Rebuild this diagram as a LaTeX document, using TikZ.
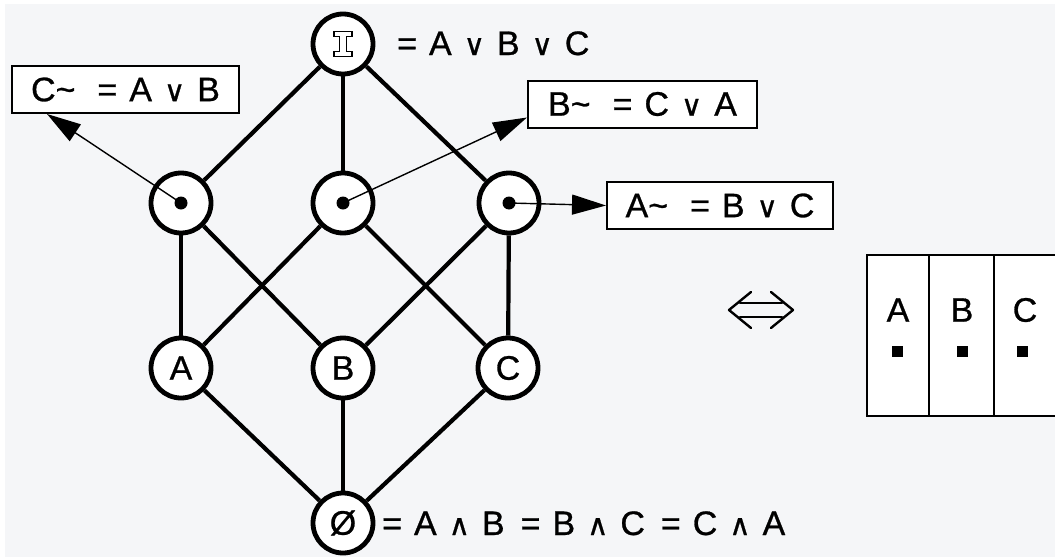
\documentclass[tikz,border=0pt]{standalone}
\usepackage{fontspec}
\setmainfont[FakeBold=0.8]{Liberation Sans}
\newfontfamily\symf[FakeBold=0.8]{DejaVu Sans}
\usetikzlibrary{arrows.meta,calc,backgrounds}
\definecolor{bgc}{RGB}{245,246,248}
\newcommand\gap{\hspace{12pt}}
\newcommand\myor{{\symf\fontsize{29}{29}\selectfont ∨}}
\newcommand\myand{{\symf\fontsize{29}{29}\selectfont ∧}}
\tikzset{
  edge/.style={line width=4.2pt},
  vtx/.style={circle, draw, line width=4.8pt, fill=white, minimum size=60pt, inner sep=0pt},
  vdot/.style={circle, fill=black, inner sep=0pt, minimum size=13pt},
  lbox/.style={draw, line width=2pt, fill=white, inner sep=0pt, minimum height=47pt},
  ptr/.style={line width=1.4pt, -{Triangle[length=34pt,width=20pt]}},
  tbl/.style={line width=2.2pt},
  glyph/.style={line width=2.4pt, line cap=round, line join=round}
}
\begin{document}
\begin{tikzpicture}[x=1pt,y=-1pt,font=\fontsize{34}{34}\selectfont]
\useasboundingbox (0,0) rectangle (1055,557);

% lattice vertices
\node[vtx] (top) at (343,44) {};
\node[vtx] (mc) at (181,203) {};
\node[vtx] (mb) at (343,203) {};
\node[vtx] (ma) at (509,203) {};
\node[vtx] (A) at (181,368) {A};
\node[vtx] (B) at (343,368) {B};
\node[vtx] (C) at (508,368) {C};
\node[vtx] (Z) at (343,523) {Ø};

\begin{scope}[on background layer]
\fill[white] (0,0) rectangle (1055,557);
\fill[bgc] (5,4) rectangle (1055,557);
\draw[edge] (top) -- (mc);
\draw[edge] (top) -- (mb);
\draw[edge] (top) -- (ma);
\draw[edge] (mc) -- (A);
\draw[edge] (mc) -- (B);
\draw[edge] (mb) -- (A);
\draw[edge] (mb) -- (C);
\draw[edge] (ma) -- (B);
\draw[edge] (ma) -- (C);
\draw[edge] (A) -- (Z);
\draw[edge] (B) -- (Z);
\draw[edge] (C) -- (Z);
\end{scope}

% outlined I glyph in top vertex
\draw[line width=1.8pt, fill=white] ($(top)+(-9,-12.5)$) -- ++(18,0) -- ++(0,5) -- ++(-5.5,0) -- ++(0,15) -- ++(5.5,0) -- ++(0,5) -- ++(-18,0) -- ++(0,-5) -- ++(5.5,0) -- ++(0,-15) -- ++(-5.5,0) -- cycle;

% dots
\node[vdot] (dc) at (mc) {};
\node[vdot] (db) at (mb) {};
\node[vdot] (da) at (ma) {};

% labels
\node[anchor=base west, inner sep=0pt] (topl) at (397,55) {=\gap A\gap\myor\gap B\gap\myor\gap C};
\node[anchor=base west, inner sep=0pt] (botl) at (382,535) {=\gap A\gap\myand\gap B\hspace{16pt}=\gap B\gap\myand\gap C\hspace{16pt}=\gap C\gap\myand\gap A};

\node[lbox, minimum width=227pt] (Cbox) at (125.5,89.5) {C\textasciitilde\hspace{22pt}=\gap A\gap\myor\gap B};
\node[lbox, minimum width=229pt] (Bbox) at (642.5,104) {B\textasciitilde\hspace{22pt}=\gap C\gap\myor\gap A};
\node[lbox, minimum width=226pt] (Abox) at (720,205.5) {A\textasciitilde\hspace{22pt}=\gap B\gap\myor\gap C};

\coordinate (ct) at ($(Cbox.south west)+(36,0)$);
\coordinate (bt) at ($(Bbox.south west)+(0,-11)$);
\draw[ptr] (dc.center) -- (ct);
\draw[ptr] (db.center) -- (bt);
\draw[ptr] (da.center) -- (Abox.west);

% equivalence glyph
\draw[glyph] (751,292) -- (729,310) -- (751,328);
\draw[glyph] (771,292) -- (793,310) -- (771,328);
\draw[glyph] (740,303) -- (782,303);
\draw[glyph] (740,317) -- (782,317);

% right table
\draw[tbl, fill=white] (867,255) rectangle (1062,416);
\draw[tbl] (929,255) -- (929,416);
\draw[tbl] (994,255) -- (994,416);
\node (ta) at (898,310) {A};
\node (tb) at (962,310) {B};
\node (tc) at (1025,310) {C};
\fill (892,346) rectangle (903,357);
\fill (957,346) rectangle (968,357);
\fill (1017,346) rectangle (1028,357);
\end{tikzpicture}
\end{document}
